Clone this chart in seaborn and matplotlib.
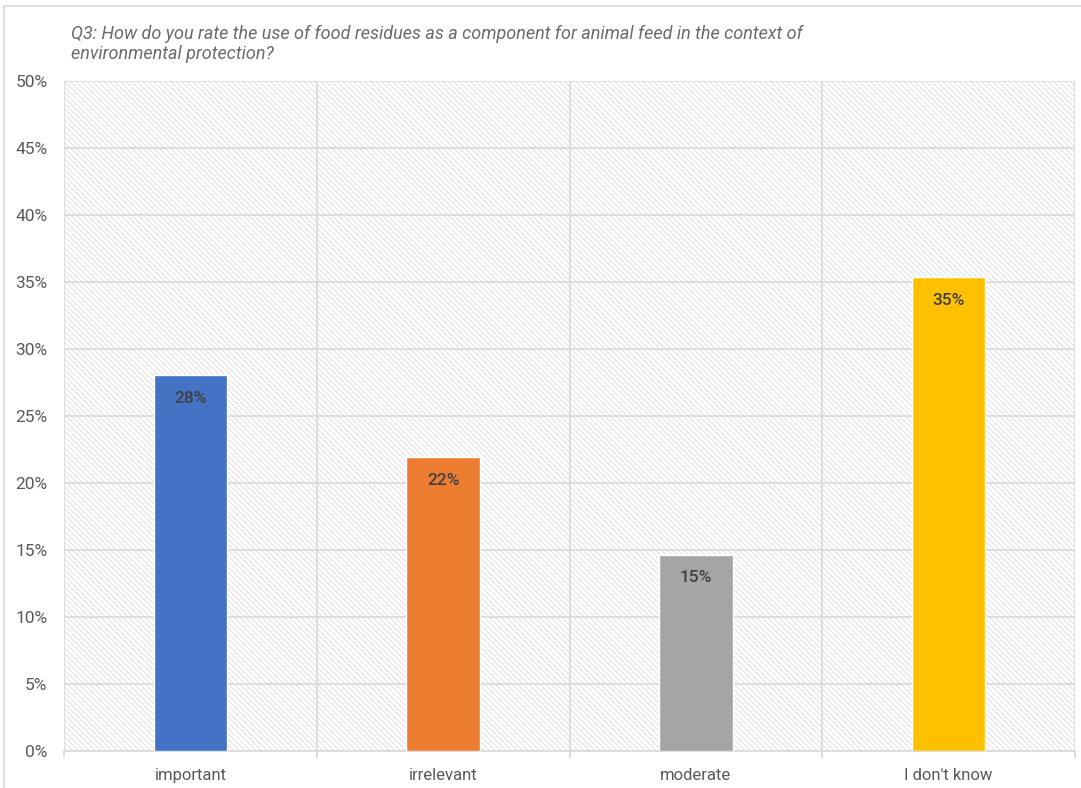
import numpy as np
import pandas as pd
import seaborn as sns
import matplotlib.pyplot as plt
from matplotlib.patches import Rectangle
from matplotlib.ticker import PercentFormatter

categories = ["important", "irrelevant", "moderate", "I don't know"]
shares = [28.06, 21.94, 14.63, 35.37]
labels = ["28%", "22%", "15%", "35%"]
colors = ["#4472C4", "#ED7D31", "#A5A5A5", "#FFC000"]
title = ("Q3: How do you rate the use of food residues as a component for animal feed in the context of\n"
         "environmental protection?")

df = pd.DataFrame({"answer": categories, "share": shares})

sns.set_style("white")
plt.rcParams['font.family'] = ['Roboto', 'DejaVu Sans']
plt.rcParams['hatch.linewidth'] = 0.6
plt.rcParams['hatch.color'] = '#dcdcdc'

fig = plt.figure(figsize=(10.81, 7.88), dpi=100)
ax = fig.add_axes([0.0592, 0.047, 0.9353, 0.8502])

# hatched plot background
ax.add_patch(Rectangle((0, 0), 1, 1, transform=ax.transAxes, facecolor='white',
                       edgecolor='#dcdcdc', hatch='\\\\\\\\\\\\', linewidth=0, zorder=0))

sns.barplot(data=df, x="answer", y="share", hue="answer", palette=colors,
            width=0.29, legend=False, ax=ax, zorder=3, saturation=1)

for cont, lab in zip(ax.containers, labels):
    ax.bar_label(cont, labels=[lab], padding=-22, color='#404040', fontsize=12.5,
                 fontweight='medium', zorder=4)

ax.set_ylim(0, 50)
ax.set_xlim(-0.5, 3.5)
ax.set_yticks(np.arange(0, 51, 5))
ax.yaxis.set_major_formatter(PercentFormatter(decimals=0))
ax.set_xticks(np.arange(-0.5, 3.6, 1), minor=True)
ax.grid(True, axis='y', color='#d9d9d9', linewidth=1.2, zorder=1)
ax.grid(True, axis='x', which='minor', color='#d9d9d9', linewidth=1.2, zorder=1)
ax.grid(False, axis='x', which='major')
ax.set_axisbelow(True)
for s in ['top', 'right', 'left']:
    ax.spines[s].set_visible(False)
ax.spines['bottom'].set_color('#d9d9d9')
ax.spines['bottom'].set_linewidth(1.2)
ax.tick_params(axis='x', which='major', length=0, pad=12, labelsize=12, labelcolor='#595959')
ax.tick_params(axis='x', which='minor', length=5, color='#d9d9d9', width=1.2, bottom=True)
ax.tick_params(axis='y', length=0, pad=12, labelsize=12.5, labelcolor='#595959')
ax.set_xlabel("")
ax.set_ylabel("")

fig.text(0.0657, 0.968, title, ha='left', va='top', fontsize=13, style='italic',
         color='#6b6b6b', linespacing=1.15)

fig.patches.append(Rectangle((0.004, -0.01), 1.0, 1.003, transform=fig.transFigure,
                             fill=False, edgecolor='#d9d9d9', linewidth=1.2))

fig.savefig("out.png", dpi=100)
